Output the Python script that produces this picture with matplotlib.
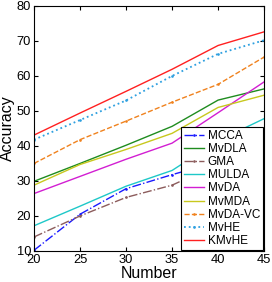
import numpy as np
import matplotlib.pyplot as plt

plt.rcParams['font.family'] = ['Liberation Sans', 'DejaVu Sans']

# values
number = [20, 25, 30, 35, 40, 45]
mcca = [10.2, 20.5, 27.8, 31.8, 35.5, 39.3]
mvdla = [29.9, 35.0, 40.2, 45.6, 53.1, 56.3]
gma = [14.0, 20.0, 25.3, 28.8, 34.8, 38.5]
mulda = [17.2, 22.8, 28.5, 33.0, 41.5, 47.8]
mvda = [26.4, 31.3, 36.2, 40.8, 49.5, 58.3]
mvmda = [28.8, 34.7, 39.0, 43.6, 51.0, 54.5]
mvda_vc = [35.0, 41.8, 47.1, 52.5, 57.6, 65.4]
mvhe = [41.8, 47.4, 53.0, 60.0, 66.3, 70.2]
kmvhe = [43.1, 49.4, 55.6, 61.9, 68.7, 72.6]

fig = plt.figure(figsize=(2.72, 2.82), dpi=100)
ax = fig.add_axes([0.125, 0.110, 0.846, 0.869])

lw = 1.0
ax.plot(number, mcca, color='#1a1aff', ls='-.', lw=lw, marker='.', ms=1.8, label='MCCA')
ax.plot(number, mvdla, color='#1f8c1f', ls='-', lw=lw, label='MvDLA')
ax.plot(number, gma, color='#8c5c5c', ls='-.', lw=lw, marker='.', ms=1.8, label='GMA')
ax.plot(number, mulda, color='#1ec8c8', ls='-', lw=lw, label='MULDA')
ax.plot(number, mvda, color='#d21ed2', ls='-', lw=lw, label='MvDA')
ax.plot(number, mvmda, color='#c8c81e', ls='-', lw=lw, label='MvMDA')
ax.plot(number, mvda_vc, color='#f0821e', ls='--', lw=lw, marker='.', ms=1.8, label='MvDA-VC')
ax.plot(number, mvhe, color='#2ea0e0', ls=':', lw=1.3, marker='.', ms=1.8, label='MvHE')
ax.plot(number, kmvhe, color='#ff2020', ls='-', lw=lw, label='KMvHE')

ax.set_xlim(20, 45)
ax.set_ylim(10, 80)
ax.set_xticks(np.arange(20, 46, 5))
ax.set_yticks(np.arange(10, 81, 10))
ax.tick_params(direction='in', top=True, right=True, labelsize=9.3, length=3, pad=2)
for s in ax.spines.values():
    s.set_linewidth(0.8)
ax.set_xlabel('Number', fontsize=11.5, labelpad=0)
ax.set_ylabel('Accuracy', fontsize=11.5, labelpad=1)

leg = ax.legend(loc='lower right', bbox_to_anchor=(0.967, 0.113),
                bbox_transform=fig.transFigure, fontsize=8.5, labelspacing=0.1,
                handlelength=1.7, handletextpad=0.3, borderpad=0.25,
                borderaxespad=0, fancybox=False, framealpha=1, edgecolor='black')
leg.get_frame().set_linewidth(0.8)

fig.savefig('out.png', dpi=100)
